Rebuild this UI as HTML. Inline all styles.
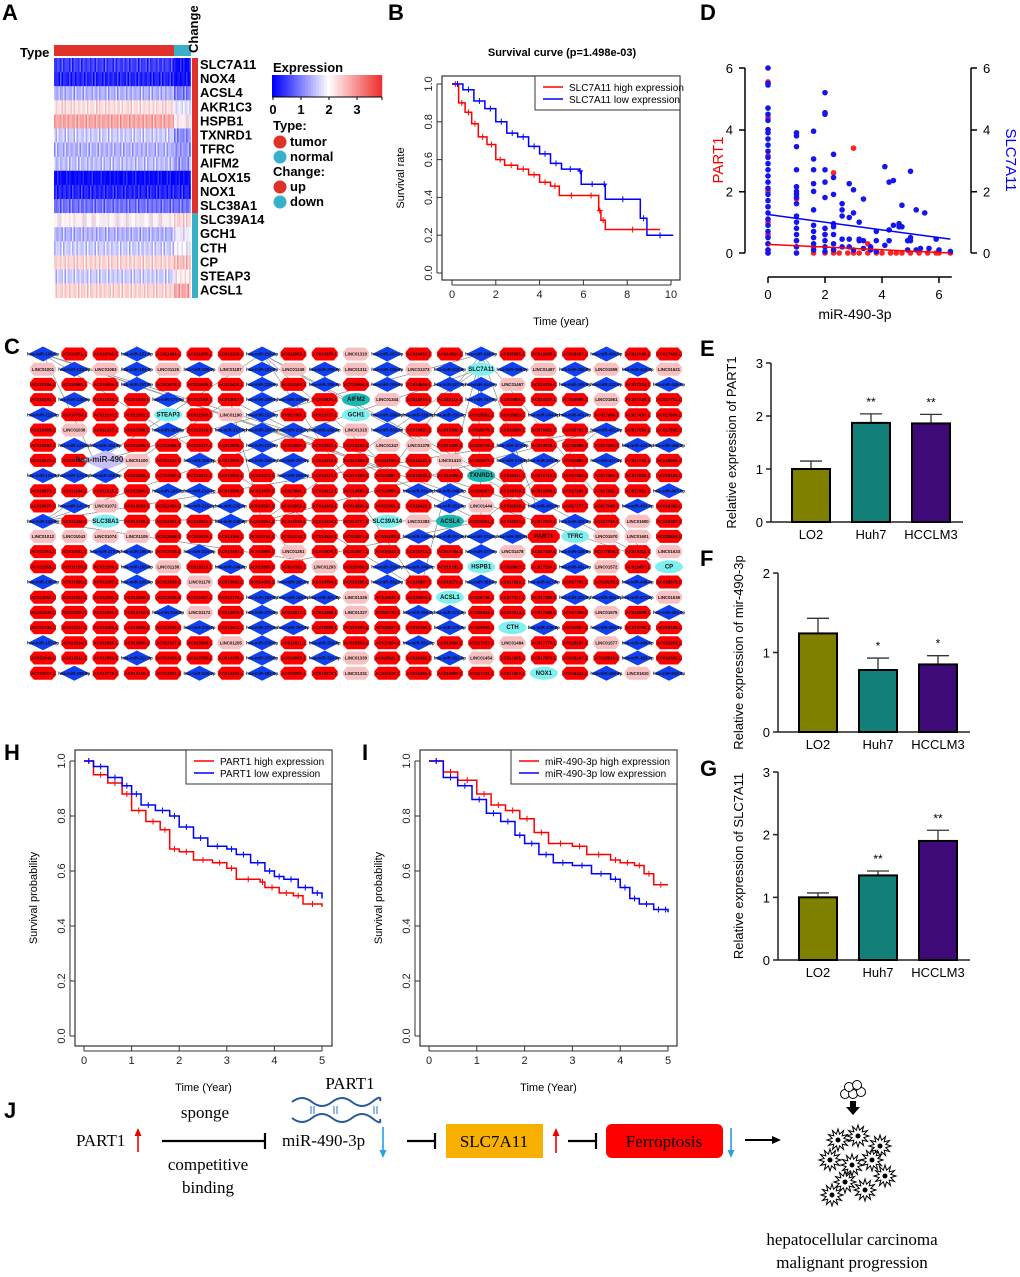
<!DOCTYPE html>
<html><head><meta charset="utf-8"><style>
html,body{margin:0;padding:0;background:#fff;}
svg{display:block;font-family:"Liberation Sans",Arial,sans-serif;}
</style></head><body>
<svg id="fig" width="1020" height="1277" viewBox="0 0 1020 1277" xmlns="http://www.w3.org/2000/svg">
<g font-weight="bold" font-size="22" fill="#000">
<text x="2" y="20">A</text>
<text x="388" y="20">B</text>
<text x="700" y="20">D</text>
<text x="4" y="354">C</text>
<text x="700" y="356">E</text>
<text x="700" y="566">F</text>
<text x="700" y="776">G</text>
<text x="4" y="760">H</text>
<text x="362" y="760">I</text>
<text x="4" y="1118">J</text>
</g>
<g id="A"></g>
<g id="B"></g>
<g id="C"></g>
<g id="D"></g>
<g id="E"></g>
<g id="F"></g>
<g id="G"></g>
<g id="H"></g>
<g id="I"></g>
<g id="J" font-family="'Liberation Serif',serif">
<text x="350" y="1089" text-anchor="middle" font-size="17">PART1</text>
<g fill="none" stroke="#2a5a9a" stroke-width="2">
<path d="M292 1102 Q302 1094 312 1102 T332 1102 T352 1102 T372 1102 T380 1101"/>
<path d="M292 1118 Q302 1126 312 1118 T332 1118 T352 1118 T372 1118 T380 1119"/>
<path d="M311 1106v8M314 1106v8M334 1106v8M337 1106v8M374 1106v8M377 1106v8" stroke-width="1.2" stroke="#4a8ad0"/>
</g>
<text x="205" y="1118" text-anchor="middle" font-size="17">sponge</text>
<text x="76" y="1146" font-size="17">PART1</text>
<path d="M138 1152V1132" stroke="#e00" stroke-width="1.6"/><path d="M134.5 1136L138 1128L141.5 1136Z" fill="#e00"/>
<path d="M162 1141H265M265 1133V1149" stroke="#000" stroke-width="2.2"/>
<text x="208" y="1170" text-anchor="middle" font-size="17">competitive</text>
<text x="208" y="1193" text-anchor="middle" font-size="17">binding</text>
<text x="282" y="1146" font-size="17">miR-490-3p</text>
<path d="M383 1127V1152" stroke="#29a0e0" stroke-width="1.6"/><path d="M379.5 1150L383 1158L386.5 1150Z" fill="#29a0e0"/>
<path d="M407 1141H435M435 1133V1149" stroke="#000" stroke-width="2.2"/>
<rect x="446" y="1124" width="97" height="34" fill="#f8b000"/>
<text x="494" y="1147" text-anchor="middle" font-size="17">SLC7A11</text>
<path d="M556 1153V1132" stroke="#e00" stroke-width="1.6"/><path d="M552.5 1136L556 1128L559.5 1136Z" fill="#e00"/>
<path d="M568 1141H596M596 1133V1149" stroke="#000" stroke-width="2.2"/>
<rect x="606" y="1124" width="117" height="34" rx="6" fill="#f00"/>
<text x="664" y="1147" text-anchor="middle" font-size="17">Ferroptosis</text>
<path d="M731 1128V1152" stroke="#29a0e0" stroke-width="1.6"/><path d="M727.5 1150L731 1158L734.5 1150Z" fill="#29a0e0"/>
<path d="M745 1140H776" stroke="#000" stroke-width="2"/><path d="M772 1136L781 1140L772 1144Z"/>
<g fill="#fff" stroke="#000" stroke-width="1">
<circle cx="845" cy="1094" r="4.5"/><circle cx="853" cy="1094" r="4.5"/><circle cx="861" cy="1092" r="4.5"/><circle cx="849" cy="1087" r="4.5"/><circle cx="857" cy="1085" r="4.5"/>
</g>
<path d="M850 1101h6v6h4l-7 8-7-8h4z" fill="#000"/>
<g id="stars" fill="#fff" stroke="#000" stroke-width="1"></g>
<text x="852" y="1245" text-anchor="middle" font-size="17">hepatocellular carcinoma</text>
<text x="852" y="1268" text-anchor="middle" font-size="17">malignant progression</text>
</g>
</svg>
<script>
const NS="http://www.w3.org/2000/svg";
function mk(tag,attrs,parent){const e=document.createElementNS(NS,tag);for(const k in attrs)e.setAttribute(k,attrs[k]);parent.appendChild(e);return e;}
function tx(str,attrs,parent){const e=mk('text',attrs,parent);e.textContent=str;return e;}

/* ---------- Panel A data ---------- */
const genes=["SLC7A11","NOX4","ACSL4","AKR1C3","HSPB1","TXNRD1","TFRC","AIFM2","ALOX15","NOX1","SLC38A1","SLC39A14","GCH1","CTH","CP","STEAP3","ACSL1"];
const tumorMeans=[0.5,0.3,1.4,2.3,2.8,1.6,1.4,1.5,0.05,0.3,0.9,2.1,1.4,1.6,2.4,1.6,2.4];
const normalMeans=[0.1,0.1,1.0,1.8,2.1,1.1,1.2,1.2,0.05,0.3,0.9,2.4,1.9,1.9,2.6,2.2,2.8];
const changeUp=[1,1,1,1,1,1,1,1,1,1,1,0,0,0,0,0,0];

function heatColor(v){v=Math.max(0,Math.min(3.9,v));let r,g,b;
 if(v<2){const t=v/2;r=255*t;g=255*t;b=255;}else{const t=(v-2)/1.9;r=255-15*t;g=255-205*t;b=255-205*t;}
 return `rgb(${r|0},${g|0},${b|0})`;}
(function(){
 const A=document.getElementById('A');
 const x0=54,rowH=14.1,y0=58,cw=1.5,nT=80,nN=11;
 let r=mk('rect',{x:54,y:45,width:120,height:11,fill:'#e0322b'},A);
 
 
 r=mk('rect',{x:174,y:45,width:17,height:11,fill:'#3aafc8'},A);
 
 
 let t=tx('Type',{x:20,y:57,'font-size':13,'font-weight':'bold'},A);
 
 
 t=tx('Change',{x:0,y:0,'font-size':13,'font-weight':'bold',transform:'translate(198,53) rotate(-90)'},A);
 
 
 genes.forEach((gname,i)=>{
  const y=y0+i*rowH;
  for(let c=0;c<nT+nN;c++){
   const base=c<nT?tumorMeans[i]:normalMeans[i];
   const wob=0.45*Math.sin(c*12.9898+i*78.233)*Math.cos(c*3.7+i);
   const cell=mk('rect',{x:(x0+c*cw).toFixed(2),y:y.toFixed(2),width:cw+0.3,height:rowH+0.3,fill:heatColor(base+wob)},A);
   
   
  }
  const ch=mk('rect',{x:192,y:y.toFixed(2),width:6,height:rowH+0.3,fill:changeUp[i]?'#e0322b':'#3aafc8'},A);
  
  
  const gl=tx(gname,{x:200,y:(y+11).toFixed(1),'font-size':13,'font-weight':'bold'},A);
  
  
 });
 t=tx('Expression',{x:273,y:72,'font-size':13,'font-weight':'bold'},A);
 
 
 for(let k=0;k<40;k++){const c=mk('rect',{x:(272+k*2.75).toFixed(2),y:75,width:3,height:22,fill:heatColor(k*3.9/39)},A);
  
  }
 mk('path',{d:'M272 97H382M273 97v3M301 97v3M329 97v3M357 97v3M382 97v3',stroke:'#000','stroke-width':1},A);
 [0,1,2,3].forEach((v,k)=>{const tt=tx(String(v),{x:273+k*28,y:114,'font-size':13,'font-weight':'bold','text-anchor':'middle'},A);
  
  });
 const leg=[['Type:',null,130],['tumor','#e0322b',146],['normal','#3aafc8',161],['Change:',null,176],['up','#e0322b',191],['down','#3aafc8',206]];
 leg.forEach(([s,col,y])=>{
  if(col){const cc=mk('circle',{cx:280,cy:y-4,r:6.5,fill:col},A);
   
   }
  const lt=tx(s,{x:col?290:273,y:y,'font-size':13,'font-weight':'bold'},A);
  
  
 });
})();

/* ---------- Survival data ---------- */
const bHighT=[0,0.3,0.6,0.9,1.2,1.6,2,2.4,3,3.5,4,4.5,4.9,6,6.7,6.8,7,9.5];
const bHighS=[1,0.9,0.85,0.79,0.72,0.68,0.6,0.57,0.55,0.52,0.48,0.46,0.41,0.41,0.33,0.28,0.23,0.23];
const bLowT=[0,0.5,1,1.5,2,2.5,3,3.5,4,4.5,5,5.8,5.9,6.9,7,8.6,8.9,10.1];
const bLowS=[1,0.97,0.91,0.87,0.8,0.74,0.72,0.67,0.63,0.58,0.55,0.54,0.47,0.47,0.39,0.29,0.2,0.2];
const hHighT=[0,0.2,0.5,0.8,1,1.3,1.6,1.8,2,2.3,2.7,3,3.2,3.7,3.8,4.1,4.4,4.6,5];
const hHighS=[1,0.95,0.92,0.88,0.82,0.78,0.75,0.68,0.67,0.64,0.63,0.61,0.57,0.56,0.54,0.52,0.51,0.48,0.47];
const hLowT=[0,0.2,0.5,0.8,1,1.2,1.5,1.8,2,2.3,2.6,3,3.2,3.5,3.8,4,4.2,4.5,4.8,5];
const hLowS=[1,0.98,0.94,0.91,0.88,0.84,0.82,0.8,0.76,0.72,0.69,0.68,0.66,0.63,0.6,0.58,0.57,0.54,0.52,0.5];
const iHighT=[0,0.3,0.6,1,1.3,1.6,1.9,2.2,2.5,3,3.3,3.8,4,4.3,4.5,4.7,5];
const iHighS=[1,0.96,0.93,0.88,0.84,0.82,0.79,0.74,0.7,0.69,0.66,0.64,0.63,0.62,0.59,0.55,0.55];
const iLowT=[0,0.3,0.6,0.9,1.2,1.5,1.8,2,2.3,2.6,3,3.4,3.8,4,4.2,4.4,4.7,4.9,5];
const iLowS=[1,0.94,0.91,0.86,0.81,0.78,0.73,0.7,0.66,0.63,0.62,0.59,0.57,0.54,0.5,0.48,0.46,0.46,0.45];
const bTicksX=[0,2,4,6,8,10];
const hTicksX=[0,1,2,3,4,5];
const survTicksY=[0,0.2,0.4,0.6,0.8,1.0];

function kmPanel(g,cfg){
 const sx=v=>cfg.x0+(v-cfg.xmin)/(cfg.xmax-cfg.xmin)*(cfg.x1-cfg.x0);
 const sy=v=>cfg.y0-(v)*(cfg.y0-cfg.y1);
 let b=mk('rect',{x:cfg.bx0,y:cfg.by0,width:cfg.bx1-cfg.bx0,height:cfg.by1-cfg.by0,fill:'none',stroke:'#333','stroke-width':1.2},g);
 
 
 cfg.ticksX.forEach(v=>{mk('path',{d:`M${sx(v)} ${cfg.by1}v5`,stroke:'#333'},g);
  const t=tx(String(v),{x:sx(v),y:cfg.by1+18,'font-size':11,'text-anchor':'middle',fill:'#222'},g);
  
  });
 mk('path',{d:`M${sx(cfg.ticksX[0])} ${cfg.by1+5}H${sx(cfg.ticksX[cfg.ticksX.length-1])}`,stroke:'#333'},g);
 survTicksY.forEach(v=>{mk('path',{d:`M${cfg.bx0} ${sy(v)}h-5`,stroke:'#333'},g);
  const t=tx(v.toFixed(1),{x:0,y:0,'font-size':11,'text-anchor':'middle',fill:'#222',transform:`translate(${cfg.bx0-10},${sy(v)}) rotate(-90)`},g);
  
  });
 mk('path',{d:`M${cfg.bx0-5} ${sy(0)}V${sy(1)}`,stroke:'#333'},g);
 let t=tx(cfg.xlab,{x:(cfg.bx0+cfg.bx1)/2,y:cfg.by1+45,'font-size':11,'text-anchor':'middle'},g);
 
 
 t=tx(cfg.ylab,{x:0,y:0,'font-size':11,'text-anchor':'middle',transform:`translate(${cfg.bx0-38},${(cfg.by0+cfg.by1)/2}) rotate(-90)`},g);
 
 
 cfg.series.forEach(s=>{
  let d=`M${sx(s.t[0])} ${sy(s.s[0])}`;
  for(let i=1;i<s.t.length;i++){d+=`H${sx(s.t[i]).toFixed(1)}V${sy(s.s[i]).toFixed(1)}`;}
  const p=mk('path',{d:d,fill:'none',stroke:s.c,'stroke-width':1.5},g);
  
  
  for(let i=1;i<s.t.length;i++){
   const cx=(sx(s.t[i-1])+sx(s.t[i]))/2, cy=sy(s.s[i-1]);
   const m=mk('path',{d:`M${cx-3} ${cy}h6M${cx} ${cy-3}v6`,stroke:s.c,'stroke-width':1},g);
   
   
  }
 });
 const L=cfg.leg;
 let lb=mk('rect',{x:L.x,y:L.y,width:L.w,height:34,fill:'#fff',stroke:'#333'},g);
 
 
 cfg.series.forEach((s,k)=>{
  mk('path',{d:`M${L.x+8} ${L.y+11+k*12}h20`,stroke:s.c,'stroke-width':1.5},g);
  const lt=tx(s.label,{x:L.x+34,y:L.y+15+k*12,'font-size':10},g);
  
  
 });
}
kmPanel(document.getElementById('B'),{x0:452,x1:671,xmin:0,xmax:10,y0:273,y1:84,bx0:442,bx1:680,by0:76,by1:280,ticksX:bTicksX,
 xlab:'Time (year)',ylab:'Survival rate',leg:{x:535,y:76,w:145},
 series:[{t:bHighT,s:bHighS,c:'#f00',label:'SLC7A11 high expression',name:'slc7a11-high-curve'},{t:bLowT,s:bLowS,c:'#00f',label:'SLC7A11 low expression',name:'slc7a11-low-curve'}]});
(function(){const t=tx('Survival curve (p=1.498e-03)',{x:562,y:56,'font-size':11,'font-weight':'bold','text-anchor':'middle'},document.getElementById('B'));
 
 })();
kmPanel(document.getElementById('H'),{x0:84,x1:322,xmin:0,xmax:5,y0:1036,y1:761,bx0:75,bx1:332,by0:750,by1:1046,ticksX:hTicksX,
 xlab:'Time (Year)',ylab:'Survival probability',leg:{x:186,y:750,w:146},
 series:[{t:hHighT,s:hHighS,c:'#f00',label:'PART1 high expression',name:'part1-high-curve'},{t:hLowT,s:hLowS,c:'#00f',label:'PART1 low expression',name:'part1-low-curve'}]});
kmPanel(document.getElementById('I'),{x0:429,x1:668,xmin:0,xmax:5,y0:1036,y1:761,bx0:420,bx1:677,by0:750,by1:1046,ticksX:hTicksX,
 xlab:'Time (Year)',ylab:'Survival probability',leg:{x:511,y:750,w:166},
 series:[{t:iHighT,s:iHighS,c:'#f00',label:'miR-490-3p high expression',name:'mir-high-curve'},{t:iLowT,s:iLowS,c:'#00f',label:'miR-490-3p low expression',name:'mir-low-curve'}]});

/* ---------- Panel C network ---------- */
(function(){
 const C=document.getElementById('C');
 const cols=21,rows=22,x0=43,dx=31.3,y0=354,dy=15.2;
 const eg=mk('g',{stroke:'#999','stroke-width':0.4,'stroke-opacity':0.45},C);
 
 
 const hubs=[[95,462],[478,370],[537,508],[230,400],[390,470],[600,430],[420,590],[300,560],[650,560],[180,520]];
 for(let k=0;k<420;k++){
  const i=(k*7)%cols,j=(k*11)%rows;
  const h=hubs[k%hubs.length];
  mk('path',{d:`M${(x0+i*dx).toFixed(1)} ${(y0+j*dy).toFixed(1)}L${h[0]} ${h[1]}`},eg);
 }
 const special={"1,14":["SLC7A11","cyan"],"11,11":["SLC39A14","cyan"],"4,4":["STEAP3","cyan"],"3,10":["AIFM2","cyan2"],"4,10":["GCH1","cyan"],"12,16":["PART1","redbig"],"7,2":["hsa-miR-490-3p","lav"],"11,2":["SLC38A1","cyan"],"12,17":["TFRC","cyan"],"14,14":["HSPB1","cyan"],"8,14":["TXNRD1","cyan2"],"11,13":["ACSL4","cyan2"],"16,13":["ACSL1","cyan"],"18,15":["CTH","cyan"],"21,16":["NOX1","cyan"],"14,20":["CP","cyan"]};
 for(let j=0;j<rows;j++)for(let i=0;i<cols;i++){
  const x=x0+i*dx,y=y0+j*dy;
  const h=(i*7+j*13+i*j*3+ (i^j))%11;
  let sp=special[j+','+i];
  let shape,fill,lab;
  if(sp){lab=sp[0];
   if(sp[1]==='cyan'){shape='ell';fill='#7ff0f0';}else if(sp[1]==='cyan2'){shape='ell';fill='#1ab8b0';}
   else if(sp[1]==='lav'){shape='dia';fill='#c8c0f8';}else{shape='oct';fill='#f00';}
  }else if(h<3){shape='dia';fill='#1040f0';lab='hsa-miR-'+(100+i*17+j*3)+'-5p';}
  else if(h===3){shape='oct';fill='#f8c0c0';lab='LINC0'+(1000+i*31+j);}
  else{shape='oct';fill='#f00';lab='AC0'+(10000+i*371+j*97)+'.1';}
  let n;
  if(shape==='dia'){const w=sp?24:15,hh=sp?10:7.5;n=mk('path',{d:`M${x-w} ${y}L${x} ${y-hh}L${x+w} ${y}L${x} ${y+hh}Z`,fill:fill},C);}
  else if(shape==='ell'){n=mk('ellipse',{cx:x,cy:y,rx:14,ry:6.5,fill:fill},C);}
  else{const w=sp?16:13,hh=6.5;n=mk('path',{d:`M${x-w} ${y-2}L${x-w+4} ${y-hh}H${x+w-4}L${x+w} ${y-2}V${y+2}L${x+w-4} ${y+hh}H${x-w+4}L${x-w} ${y+2}Z`,fill:fill},C);}
  
  
  const t=tx(lab,{x:x,y:y+1.6,'font-size':sp?(lab.length>10?8:6):4.3,'font-weight':'bold','text-anchor':'middle',fill:sp&&sp[1]==='lav'?'#222':'#111'},C);
  
  
 }
})();

/* ---------- Panel D scatter ---------- */
const dBlueX=[0,0,0,0,0,0,0,0,0,0,0,0,0,0,0,0,0,0,0,0,0,0,0,0,0,0,0,0,1,1,1,1,1,1,1,1,1,1,1,1,1,1,1,1,1.6,1.6,1.6,1.6,1.6,1.6,1.6,1.6,1.6,1.6,1.6,2,2,2,2,2,2,2,2,2,2,2,2.3,2.3,2.3,2.3,2.3,2.3,2.3,2.3,2.6,2.6,2.6,2.6,2.6,2.85,2.85,2.85,2.85,3,3,3,3.2,3.2,3.2,3.35,3.35,3.35,3.6,3.6,3.8,3.8,3.8,4.1,4.1,4.25,4.25,4.25,4.4,4.4,4.6,4.6,4.7,4.7,4.9,4.9,5,5,5,5.2,5.2,5.35,5.5,5.65,5.9,6,6.4];
const dBlueY=[6,5.5,5.45,4.7,4.5,4.3,4.0,3.9,3.7,3.5,3.3,3.1,2.9,2.7,2.5,2.3,2.1,1.9,1.7,1.5,1.3,1.1,0.9,0.7,0.5,0.3,0.1,0,3.9,3.8,3.45,2.7,2.15,2.0,1.9,1.8,1.6,1.2,1.0,0.8,0.6,0.4,0.2,0,3.95,3.05,2.7,2.25,2.0,1.4,0.9,0.7,0.5,0.3,0.1,5.2,4.55,4.5,2.7,2.3,1.8,0.8,0.6,0.4,0.2,0.05,3.2,2.45,1.9,0.95,0.85,0.6,0.3,0.1,1.6,1.4,1.2,0.45,0.2,2.25,1.15,0.45,0.2,2.05,1.3,0.1,1.0,0.45,0.4,1.75,0.4,0.15,0.2,0.1,0.7,0.4,0.05,2.8,0.25,2.3,0.75,0.4,2.35,0.9,0.95,0.85,1.55,0.85,0.4,0.1,2.65,0.5,0.4,1.4,0.1,0.15,1.3,0.15,0.45,0.1,0.05];
const dRedX=[0,0,0,0,0,0,0,0,0,0,1,1,1,1.6,1.6,2,2,2.3,2.3,2.5,2.8,3,3,3.2,3.5,3.5,3.8,4,4.3,4.5,4.7,5,5.3,5.6,5.9,6,6.4];
const dRedY=[5.55,4.4,3.15,2.0,1.5,1.0,0.6,0.3,0.1,0,1.75,0.4,0,0.2,0,0.6,0,2.6,0,0,0,3.4,0,0,0.3,0,0,0,0,0,0,0,0,0,0,0,0];
const dBlueFit=[1.25,0.45];
const dRedFit=[0.28,0.0];
const dTicks=[0,2,4,6];
(function(){
 const D=document.getElementById('D');
 const sx=v=>768+v*(939-768)/6, sy=v=>253-v*(253-68)/6;
 mk('path',{d:'M745 68V253M745 68h-6M745 130h-6M745 191.7h-6M745 253h-6',stroke:'#000','stroke-width':1.5,fill:'none'},D);
 mk('path',{d:'M971 68V253M971 68h6M971 130h6M971 191.7h6M971 253h6',stroke:'#000','stroke-width':1.5,fill:'none'},D);
 mk('path',{d:`M${sx(0)} 277H${sx(6.45)}`+dTicks.map(v=>`M${sx(v)} 277v6`).join(''),stroke:'#000','stroke-width':1.5},D);
 dTicks.forEach(v=>{
  let t=tx(String(v),{x:733,y:sy(v)+5,'font-size':13,'text-anchor':'end'},D);
  
  
  t=tx(String(v),{x:983,y:sy(v)+5,'font-size':13},D);
  
  
  t=tx(String(v),{x:sx(v),y:299,'font-size':13,'text-anchor':'middle'},D);
  
  
 });
 let t=tx('miR-490-3p',{x:855,y:319,'font-size':14,'text-anchor':'middle'},D);
 
 
 t=tx('PART1',{x:0,y:0,'font-size':15,'text-anchor':'middle',fill:'#f00',transform:'translate(723,160) rotate(-90)'},D);
 
 
 t=tx('SLC7A11',{x:0,y:0,'font-size':15,'text-anchor':'middle',fill:'#00f',transform:'translate(1006,160) rotate(90)'},D);
 
 
 dRedX.forEach((x,i)=>{const c=mk('circle',{cx:sx(x),cy:sy(dRedY[i]),r:2.8,fill:'#f22'},D);
  
  });
 dBlueX.forEach((x,i)=>{const c=mk('circle',{cx:sx(x),cy:sy(dBlueY[i]),r:2.8,fill:'#1515f0'},D);
  
  });
 let l=mk('path',{d:`M${sx(0)} ${sy(dRedFit[0])}L${sx(6.4)} ${sy(dRedFit[1])}`,stroke:'#f00','stroke-width':1.5},D);
 
 
 l=mk('path',{d:`M${sx(0)} ${sy(dBlueFit[0])}L${sx(6.4)} ${sy(dBlueFit[1])}`,stroke:'#00f','stroke-width':1.5},D);
 
 
})();

/* ---------- Bar panels ---------- */
const cellLines=["LO2","Huh7","HCCLM3"];
const barColors=["#7f7f00","#128078","#3d0a78"];
const eVals=[1.0,1.87,1.86], eErr=[0.15,0.17,0.17], eSig=["","**","**"], eTicks=[0,1,2,3];
const fVals=[1.24,0.78,0.85], fErr=[0.19,0.15,0.11], fSig=["","*","*"], fTicks=[0,1,2];
const gVals=[1.0,1.35,1.9], gErr=[0.07,0.07,0.17], gSig=["","**","**"], gTicks=[0,1,2,3];
function barPanel(g,cfg){
 const sy=v=>cfg.y0-v*(cfg.y0-cfg.y1)/cfg.vmax;
 mk('path',{d:`M${cfg.ax} ${sy(cfg.vmax)}V${cfg.y0}H${cfg.ax+192}`+cfg.ticks.map(v=>`M${cfg.ax} ${sy(v)}h-5`).join(''),stroke:'#222','stroke-width':1.5,fill:'none'},g);
 cfg.ticks.forEach(v=>{const t=tx(String(v),{x:cfg.ax-8,y:sy(v)+5,'font-size':13,'text-anchor':'end'},g);
  
  });
 cfg.vals.forEach((v,i)=>{
  const cx=cfg.ax+40+i*60;
  mk('path',{d:`M${cx} ${sy(v)}V${sy(v+cfg.err[i])}M${cx-11} ${sy(v+cfg.err[i])}h22`,stroke:'#333','stroke-width':1.3},g);
  const b=mk('rect',{x:cx-19,y:sy(v),width:38,height:cfg.y0-sy(v),fill:barColors[i],stroke:'#000','stroke-width':2},g);
  
  
  if(cfg.sig[i]){const s=tx(cfg.sig[i],{x:cx,y:sy(v+cfg.err[i])-8,'font-size':12,'text-anchor':'middle'},g);
   
   }
  const l=tx(cellLines[i],{x:cx,y:cfg.y0+17,'font-size':13,'text-anchor':'middle'},g);
  
  
 });
 const t=tx(cfg.ylab,{x:0,y:0,'font-size':13,'text-anchor':'middle',transform:`translate(${cfg.ax-35},${(cfg.y0+sy(cfg.vmax))/2}) rotate(-90)`},g);
 
 
}
barPanel(document.getElementById('E'),{ax:771,y0:522,y1:363,vmax:3,vals:eVals,err:eErr,sig:eSig,ticks:eTicks,ylab:'Relative expression of PART1'});
barPanel(document.getElementById('F'),{ax:778,y0:732,y1:573,vmax:2,vals:fVals,err:fErr,sig:fSig,ticks:fTicks,ylab:'Relative  expression of mir-490-3p'});
barPanel(document.getElementById('G'),{ax:778,y0:960,y1:772,vmax:3,vals:gVals,err:gErr,sig:gSig,ticks:gTicks,ylab:'Relative expression of SLC7A11'});

/* ---------- J tumor stars ---------- */
(function(){
 const S=document.getElementById('stars');
 const cs=[[838,1140],[858,1136],[880,1146],[830,1160],[852,1165],[872,1160],[845,1182],[865,1190],[885,1176],[832,1195]];
 cs.forEach(([x,y])=>{let d='';for(let k=0;k<24;k++){const a=k*Math.PI/12,r=k%2?6:11;d+=(k?'L':'M')+(x+r*Math.cos(a)).toFixed(1)+' '+(y+r*Math.sin(a)).toFixed(1);}
  const p=mk('path',{d:d+'Z'},S);
  
  
  mk('circle',{cx:x,cy:y,r:2,fill:'#000'},S);});
})();
</script>
</body></html>
